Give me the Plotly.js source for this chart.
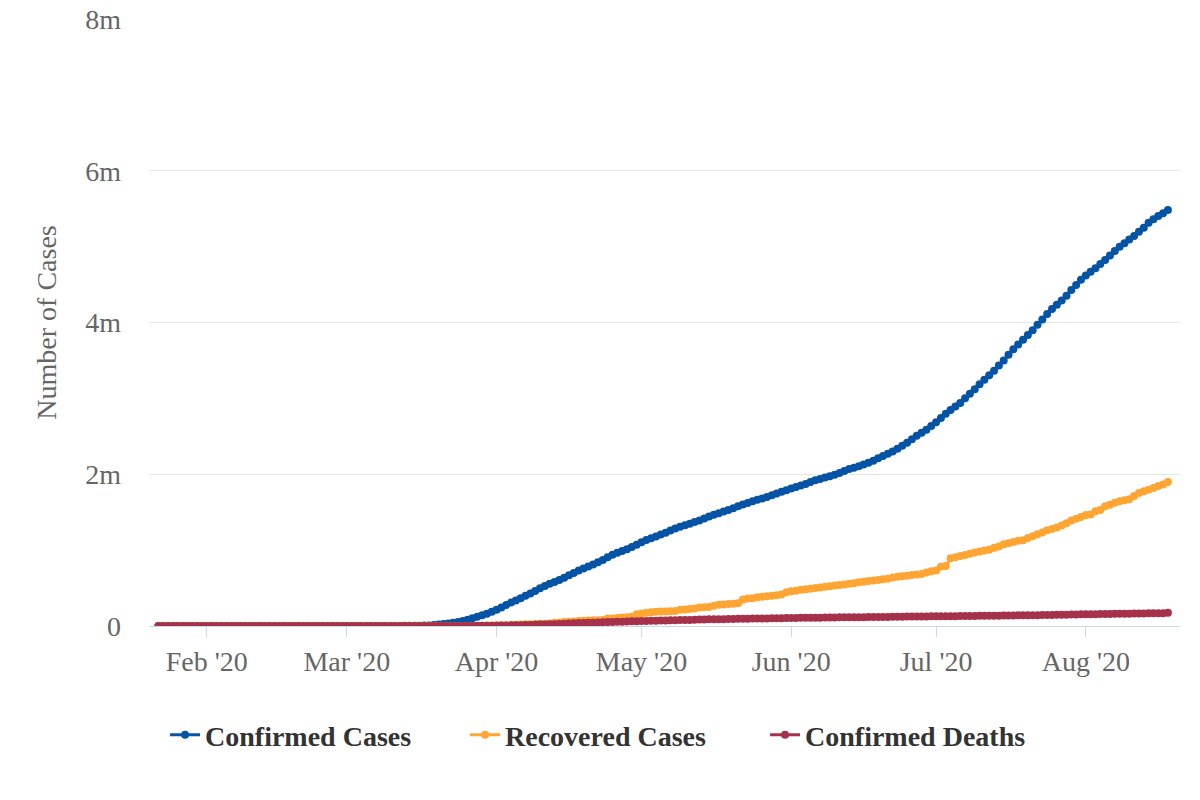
<!DOCTYPE html>
<html>
<head>
<meta charset="utf-8">
<script src="https://cdn.plot.ly/plotly-3.0.1.min.js"></script>
<style>html,body{margin:0;padding:0;background:#fff;}#chart{width:1200px;height:800px;}</style>
</head>
<body>
<div id="chart"></div>
<script>
// Daily series, 2020-01-22 .. 2020-08-18
const startDate = '2020-01-22';

const confirmedCases = [
  // Jan 22-31
  1,1,2,2,5,5,5,6,6,8,
  // Feb 1-29
  8,11,11,11,12,12,12,12,12,12,13,13,14,14,14,14,14,14,14,14,16,16,16,16,16,16,17,25,32,
  // Mar 1-31
  30,53,73,104,174,222,337,451,519,711,1109,1561,2157,2870,3500,4632,6421,7786,13680,19100,25489,33276,43847,53740,65778,83836,101657,121478,140886,161807,188172,
  // Apr 1-30
  213242,243622,275367,308650,336802,366317,397121,428654,462780,496535,526396,555313,580619,607670,636350,667592,699706,732197,759086,784326,811865,840351,869170,905358,938154,965785,988197,1012582,1039909,1069424,
  // May 1-31
  1103461,1132539,1158040,1180375,1204351,1229331,1257023,1283929,1309550,1329260,1347881,1369376,1390406,1417774,1442824,1467820,1486757,1508308,1528568,1551853,1577147,1600937,1622612,1643246,1662302,1681418,1699933,1721750,1747087,1770384,1790191,
  // Jun 1-30
  1811360,1831821,1851520,1872660,1897380,1920061,1938823,1956421,1973797,1994283,2017428,2042405,2067554,2086005,2104346,2127404,2151938,2179010,2210264,2242041,2268753,2299648,2335901,2374358,2414865,2461528,2506379,2547551,2587154,2634432,
  // Jul 1-31
  2686481,2741057,2798582,2846317,2893149,2940492,3001168,3059695,3118725,3185737,3245924,3305948,3364209,3431666,3498902,3576157,3647715,3711413,3773260,3834677,3898550,3970121,4038816,4112651,4178970,4233923,4290263,4351997,4426982,4495014,4562038,
  // Aug 1-18
  4620444,4667955,4713540,4771080,4823890,4883582,4941755,4998017,5044864,5094400,5141208,5197411,5248958,5313058,5361165,5403213,5438325,5482416
];

const recoveredCases = [
  // Jan 22-31
  0,0,0,0,0,0,0,0,0,0,
  // Feb 1-29
  0,0,0,0,0,0,0,0,3,3,3,3,3,3,3,3,3,3,3,3,5,5,5,5,5,5,5,5,7,
  // Mar 1-31
  7,7,7,7,8,8,8,8,8,8,8,8,12,12,17,17,17,17,106,108,147,176,178,348,361,681,869,1072,2665,5644,7024,
  // Apr 1-30
  8474,9001,9707,14652,17448,19581,21763,23559,25410,28790,31270,32988,43482,47763,52096,54703,58545,64840,70337,72329,75204,77366,80203,99079,100372,106988,111424,115936,120720,153947,
  // May 1-31
  164015,175382,180152,187180,189791,189910,195036,198993,212534,216169,222733,230287,243430,246414,250747,268376,279266,283178,289392,294312,298418,350135,361239,366736,379157,384902,391508,399991,406446,416461,444758,
  // Jun 1-30
  458231,463868,479258,485002,491706,500849,506367,518522,524855,533504,540292,547386,556606,561816,576334,583503,592191,599115,606715,617460,622133,640198,647548,656161,663562,670920,679308,685164,705203,720631,
  // Jul 1-31
  729994,781970,790404,894325,906763,924148,936476,953420,969111,983185,995576,1006326,1031939,1049098,1075882,1090645,1107204,1122720,1131121,1160087,1182018,1210849,1233269,1261624,1279414,1297863,1325804,1355363,1389425,1414155,1438160,
  // Aug 1-18
  1461885,1468689,1513446,1528979,1577851,1598624,1623870,1643118,1656864,1670755,1714960,1753760,1774648,1796326,1818527,1844599,1865580,1898159
];

const confirmedDeaths = [
  // Jan 22-31
  0,0,0,0,0,0,0,0,0,0,
  // Feb 1-29
  0,0,0,0,0,0,0,0,0,0,0,0,0,0,0,0,0,0,0,0,0,0,0,0,0,0,0,0,1,
  // Mar 1-31
  1,6,7,11,12,14,17,21,22,28,36,40,47,54,63,85,108,118,200,244,307,427,552,706,942,1209,1581,2026,2467,2978,3873,
  // Apr 1-30
  4757,5926,7087,8407,9619,10783,12722,14695,16478,18586,20463,22020,23529,25831,28325,32916,36773,38664,40661,42094,44444,46622,49954,51949,53755,54881,56219,58355,60967,62996,
  // May 1-31
  64943,66369,67682,68922,71064,73431,75662,77180,78795,79526,80682,82356,84119,85898,87530,88754,89562,90347,91921,93439,94702,95979,97087,97720,98220,98916,100418,101617,102836,103781,104383,
  // Jun 1-30
  105147,106195,107175,108211,109132,109847,110220,110925,111994,112924,113820,114669,115436,115732,116127,116963,117717,118435,119112,119719,119977,120402,121225,122007,124415,125039,125539,125803,126140,127425,
  // Jul 1-31
  128062,128740,129434,129676,129947,130306,131480,132300,133291,134097,134815,135205,135605,136466,137403,138360,139266,140157,140534,140909,142064,143190,144305,145471,146395,146935,148084,149338,150716,152075,153314,
  // Aug 1-18
  154447,154860,155402,156747,158249,159451,160641,161625,162173,162696,163706,165237,166284,167380,168454,168999,169480,176000
];

const seriesNames = ['Confirmed Cases', 'Recovered Cases', 'Confirmed Deaths'];
const seriesColors = ['#0453A5', '#FFA533', '#A5324A'];

const monthTicks = ['2020-02-01','2020-03-01','2020-04-01','2020-05-01','2020-06-01','2020-07-01','2020-08-01'];
const monthLabels = ["Feb '20","Mar '20","Apr '20","May '20","Jun '20","Jul '20","Aug '20"];
const yTickVals = [0, 2000000, 4000000, 6000000, 8000000];
const yTickLabels = ['0', '2m', '4m', '6m', '8m'];

// date categories for each daily value
const dates = [];
{
  const d0 = new Date(startDate + 'T00:00:00Z');
  for (let i = 0; i < confirmedCases.length; i++) {
    const d = new Date(d0.getTime() + i * 86400000);
    dates.push(d.toISOString().slice(0, 10));
  }
}

const serif = '"Liberation Serif", "Times New Roman", Times, serif';
const allSeries = [confirmedCases, recoveredCases, confirmedDeaths];

const traces = allSeries.map((ys, k) => ({
  type: 'scatter',
  mode: 'lines+markers',
  name: seriesNames[k],
  x: dates,
  y: ys,
  line: { color: seriesColors[k], width: 3 },
  marker: { color: seriesColors[k], size: 8, symbol: 'circle' },
  hoverinfo: 'skip'
}));

const layout = {
  width: 1200,
  height: 800,
  margin: { l: 150, r: 20, t: 19, b: 174, pad: 0 },
  paper_bgcolor: '#fff',
  plot_bgcolor: '#fff',
  font: { family: serif, color: '#666', size: 28 },
  showlegend: true,
  legend: {
    orientation: 'h',
    x: 0.0146, xanchor: 'left',
    y: -0.1385, yanchor: 'top',
    font: { family: serif, size: 28, color: '#333', weight: 'bold' },
    entrywidth: 255,
    itemwidth: 30,
    bgcolor: 'rgba(0,0,0,0)'
  },
  xaxis: {
    type: 'date',
    range: ['2020-01-20 06:00', '2020-08-20 12:00'],
    tickmode: 'array',
    tickvals: monthTicks,
    ticktext: monthLabels,
    ticks: 'outside',
    ticklen: 10,
    tickwidth: 1,
    tickcolor: '#ccd6eb',
    showline: true,
    linecolor: '#ccd6eb',
    linewidth: 1,
    showgrid: false,
    zeroline: false,
    tickfont: { family: serif, size: 28, color: '#666' },
    ticklabelstandoff: 0,
    fixedrange: true
  },
  yaxis: {
    range: [0, 8000000],
    tickmode: 'array',
    tickvals: yTickVals,
    ticktext: yTickLabels,
    showgrid: true,
    gridcolor: '#e6e6e6',
    gridwidth: 1,
    zeroline: false,
    showline: false,
    ticks: '',
    tickfont: { family: serif, size: 28, color: '#666' },
    ticklabelstandoff: 28,
    title: { text: 'Number of Cases', font: { family: serif, size: 28, color: '#666' }, standoff: 20 },
    fixedrange: true
  }
};

Plotly.newPlot('chart', traces, layout, { displayModeBar: false, staticPlot: true });
</script>
</body>
</html>
